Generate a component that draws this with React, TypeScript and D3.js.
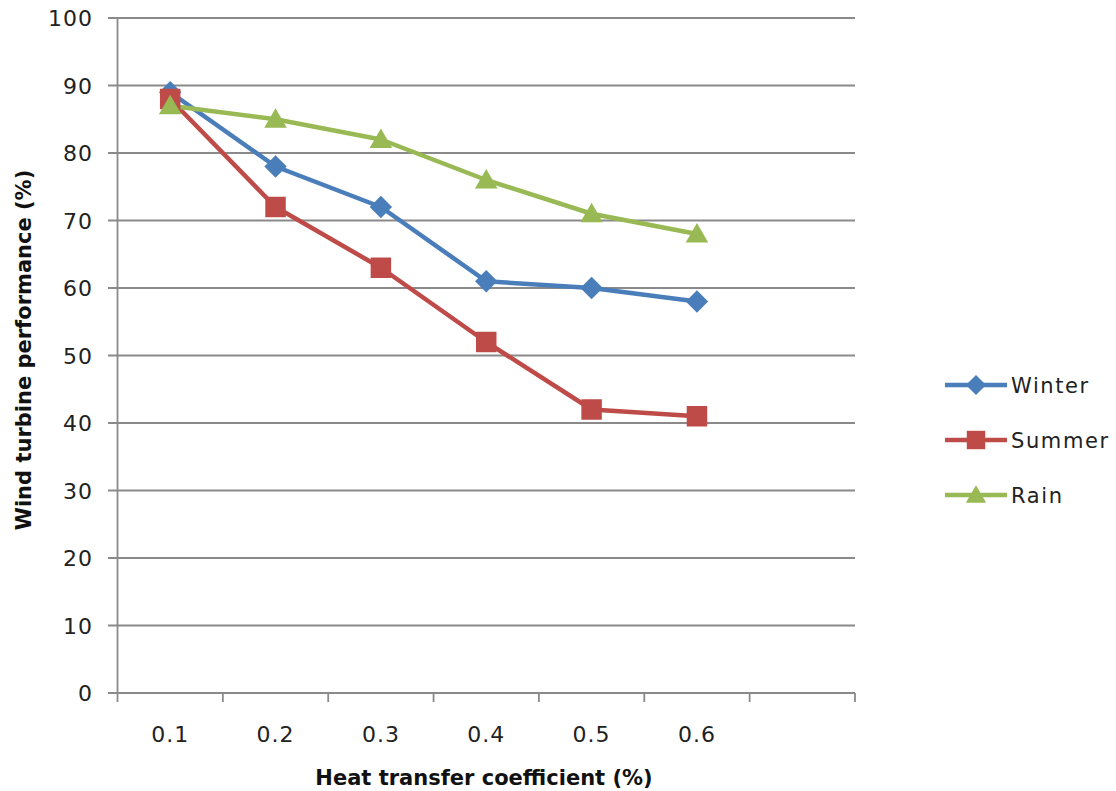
import React from "react";
import * as d3 from "d3";

// Category labels along the x axis (one extra empty slot at the end)
const categories = ["0.1", "0.2", "0.3", "0.4", "0.5", "0.6", ""];
const winter = [89, 78, 72, 61, 60, 58];
const summer = [88, 72, 63, 52, 42, 41];
const rain = [87, 85, 82, 76, 71, 68];
const yTicks = [0, 10, 20, 30, 40, 50, 60, 70, 80, 90, 100];

type Marker = "diamond" | "square" | "triangle";

const series: { name: string; values: number[]; color: string; marker: Marker }[] = [
  { name: "Winter", values: winter, color: "#4A7EBB", marker: "diamond" },
  { name: "Summer", values: summer, color: "#BE4B48", marker: "square" },
  { name: "Rain", values: rain, color: "#98B954", marker: "triangle" },
];

const W = 1116;
const H = 791;
const left = 117.5;
const right = 855;
const top = 18;
const bottom = 693;
const font = "'DejaVu Sans', Verdana, sans-serif";
const gridColor = "#8a8a8a";

function markerPath(m: Marker, scale = 1) {
  if (m === "square") return d3.symbol().type(d3.symbolSquare).size(420 * scale * scale)() as string;
  if (m === "triangle") return d3.symbol().type(d3.symbolTriangle).size(220 * scale * scale)() as string;
  return d3.symbol().type(d3.symbolSquare).size(250 * scale * scale)() as string;
}
function markerTransform(m: Marker, px: number, py: number) {
  if (m === "diamond") return `translate(${px},${py}) rotate(45)`;
  if (m === "triangle") return `translate(${px},${py + 2})`;
  return `translate(${px},${py})`;
}

export default function App() {
  const x = d3.scaleBand<string>().domain(categories.map((_, i) => String(i))).range([left, right]);
  const y = d3.scaleLinear().domain([0, 100]).range([bottom, top]);
  const cx = (i: number) => (x(String(i)) as number) + x.bandwidth() / 2;
  const line = d3
    .line<number>()
    .x((_, i) => cx(i))
    .y((d) => y(d));

  const bandEdges = d3.range(categories.length + 1).map((i) => left + i * x.bandwidth());

  return (
    <svg width={W} height={H} style={{ position: "absolute", left: 0, top: 0, background: "#fff" }}>
      <rect x={0} y={0} width={W} height={H} fill="#fff" />
      {/* horizontal gridlines with left tick stubs */}
      {yTicks.map((t) => (
        <g key={t}>
          <line x1={108} x2={right} y1={y(t)} y2={y(t)} stroke={gridColor} strokeWidth={1.8} />
          <text
            x={93}
            y={y(t)}
            dy="0.37em"
            textAnchor="end"
            fontFamily={font}
            fontSize={22}
            letterSpacing={1}
            fill="#222"
          >
            {t}
          </text>
        </g>
      ))}
      {/* y axis */}
      <line x1={left} x2={left} y1={top} y2={bottom} stroke={gridColor} strokeWidth={1.8} />
      {/* x tick marks at band edges */}
      {bandEdges.map((e, i) => (
        <line key={i} x1={e} x2={e} y1={bottom} y2={bottom + 9} stroke={gridColor} strokeWidth={1.8} />
      ))}
      {categories.map((c, i) =>
        c ? (
          <text
            key={i}
            x={cx(i)}
            y={742}
            textAnchor="middle"
            fontFamily={font}
            fontSize={22}
            letterSpacing={1}
            fill="#222"
          >
            {c}
          </text>
        ) : null
      )}
      {/* series lines */}
      {series.map((s) => (
        <path
          key={s.name}
          d={line(s.values) as string}
          fill="none"
          stroke={s.color}
          strokeWidth={4.5}
          strokeLinejoin="round"
        />
      ))}
      {/* series markers */}
      {series.map((s) =>
        s.values.map((v, i) => (
          <path
            key={s.name + i}
            d={markerPath(s.marker)}
            transform={markerTransform(s.marker, cx(i), y(v))}
            fill={s.color}
          />
        ))
      )}
      {/* axis titles */}
      <text
        x={484}
        y={785}
        textAnchor="middle"
        fontFamily={font}
        fontWeight="bold"
        fontSize={21}
        fill="#111"
      >
        Heat transfer coefficient (%)
      </text>
      <text
        transform={`translate(31,350) rotate(-90)`}
        textAnchor="middle"
        fontFamily={font}
        fontWeight="bold"
        fontSize={21}
        fill="#111"
      >
        Wind turbine performance (%)
      </text>
      {/* legend */}
      {series.map((s, i) => {
        const ly = 385 + i * 55;
        return (
          <g key={s.name}>
            <line x1={945} x2={1007} y1={ly} y2={ly} stroke={s.color} strokeWidth={4.5} />
            <path d={markerPath(s.marker, 0.9)} transform={markerTransform(s.marker, 976, ly)} fill={s.color} />
            <text
              x={1011}
              y={ly}
              dy="0.38em"
              fontFamily={font}
              fontSize={21}
              letterSpacing={1.6}
              fill="#222"
            >
              {s.name}
            </text>
          </g>
        );
      })}
    </svg>
  );
}
